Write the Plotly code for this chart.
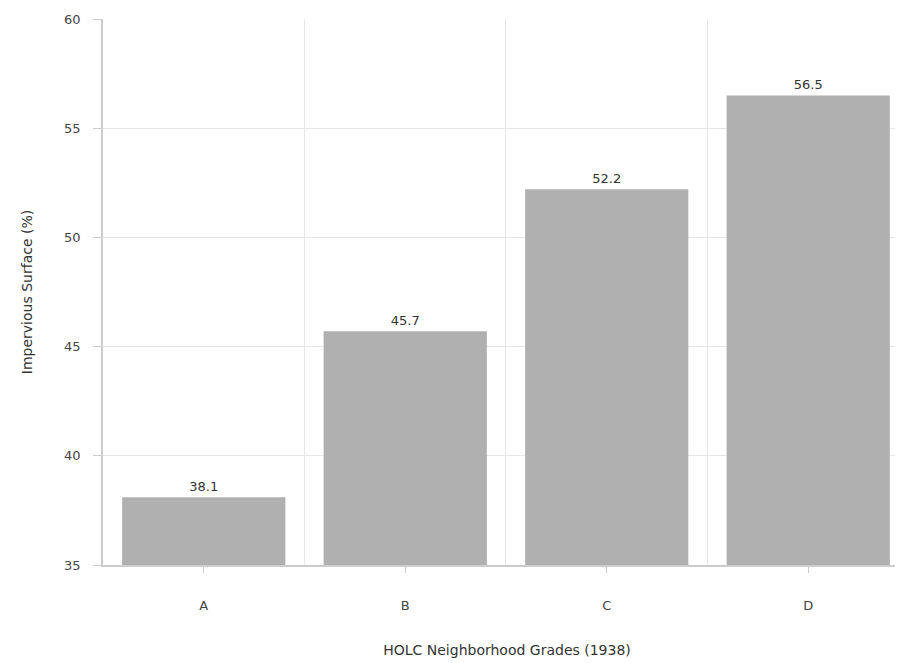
import plotly.graph_objects as go

categories = ["A", "B", "C", "D"]
values = [38.1, 45.7, 52.2, 56.5]
value_labels = ["38.1", "45.7", "52.2", "56.5"]
y_ticks = [35, 40, 45, 50, 55, 60]

fig = go.Figure()
fig.add_trace(go.Bar(
    x=list(range(len(categories))),
    y=values,
    width=0.81,
    marker=dict(color="#b0b0b0", line=dict(width=0)),
    text=value_labels,
    textposition="outside",
    textfont=dict(family="DejaVu Sans", size=13, color="#333333"),
    cliponaxis=False,
))

fig.update_layout(
    width=903, height=663,
    margin=dict(l=95, r=0, t=11, b=106),
    paper_bgcolor="white", plot_bgcolor="white",
    showlegend=False,
    font=dict(family="DejaVu Sans", color="#333333"),
    xaxis=dict(
        range=[-0.5, 3.51],
        tickmode="array",
        tickvals=list(range(len(categories))),
        ticktext=categories,
        ticks="outside", ticklen=6, tickcolor="#cccccc",
        ticklabelstandoff=22,
        showgrid=False,
        minor=dict(tick0=0.5, dtick=1, showgrid=True, gridcolor="#e6e6e6", gridwidth=1, ticks=""),
        showline=True, linecolor="#cccccc", linewidth=1.5,
        tickfont=dict(size=13, color="#444444"),
        title=dict(text="HOLC Neighborhood Grades (1938)", font=dict(size=14, color="#333333"), standoff=33),
        zeroline=False,
    ),
    yaxis=dict(
        range=[35, 60],
        tickmode="array",
        tickvals=y_ticks,
        ticks="outside", ticklen=8, tickcolor="#cccccc",
        ticklabelstandoff=10,
        showgrid=True, gridcolor="#e6e6e6", gridwidth=1,
        showline=True, linecolor="#cccccc", linewidth=1.5,
        tickfont=dict(size=13, color="#444444"),
        title=dict(text="Impervious Surface (%)", font=dict(size=14, color="#333333"), standoff=28),
        zeroline=False,
    ),
)

fig.write_html("out.html")
